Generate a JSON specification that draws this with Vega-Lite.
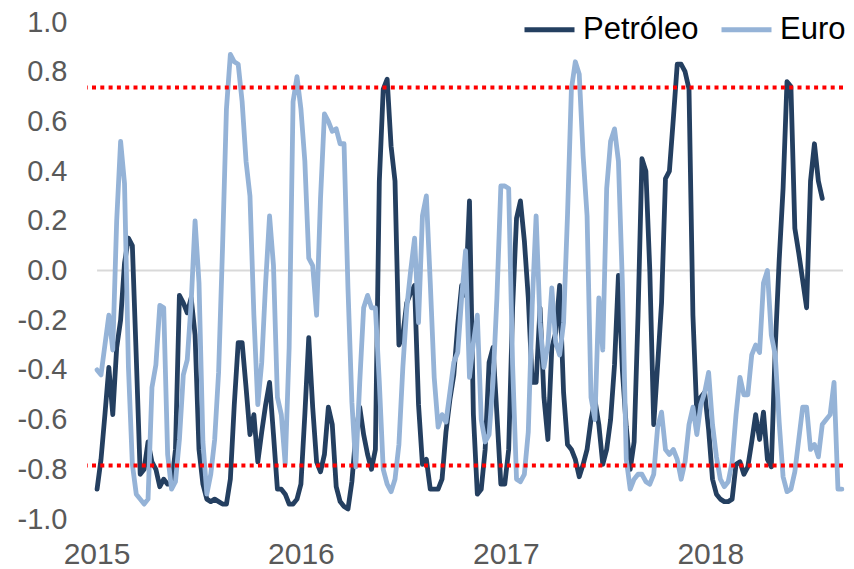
{
  "$schema": "https://vega.github.io/schema/vega-lite/v6.json",
  "width": 756,
  "height": 497,
  "padding": {"left": 87, "top": 22, "right": 11, "bottom": 50},
  "autosize": {"type": "none"},
  "background": "white",
  "config": {"view": {"stroke": null}, "font": "Liberation Sans"},
  "datasets": {
    "s": [
      {"d":"2015-01-02","oil":-0.88,"eur":-0.40},
      {"d":"2015-01-09","oil":-0.76,"eur":-0.42},
      {"d":"2015-01-16","oil":-0.58,"eur":-0.30},
      {"d":"2015-01-23","oil":-0.39,"eur":-0.18},
      {"d":"2015-01-30","oil":-0.58,"eur":-0.32},
      {"d":"2015-02-06","oil":-0.31,"eur":0.20},
      {"d":"2015-02-13","oil":-0.20,"eur":0.52},
      {"d":"2015-02-20","oil":0.03,"eur":0.35},
      {"d":"2015-02-27","oil":0.13,"eur":-0.39},
      {"d":"2015-03-06","oil":0.10,"eur":-0.78},
      {"d":"2015-03-13","oil":-0.35,"eur":-0.90},
      {"d":"2015-03-20","oil":-0.82,"eur":-0.92},
      {"d":"2015-03-27","oil":-0.80,"eur":-0.94},
      {"d":"2015-04-03","oil":-0.69,"eur":-0.92},
      {"d":"2015-04-10","oil":-0.77,"eur":-0.47},
      {"d":"2015-04-17","oil":-0.80,"eur":-0.38},
      {"d":"2015-04-24","oil":-0.87,"eur":-0.14},
      {"d":"2015-05-01","oil":-0.84,"eur":-0.15},
      {"d":"2015-05-08","oil":-0.86,"eur":-0.74},
      {"d":"2015-05-15","oil":-0.86,"eur":-0.88},
      {"d":"2015-05-22","oil":-0.72,"eur":-0.85},
      {"d":"2015-05-29","oil":-0.10,"eur":-0.68},
      {"d":"2015-06-05","oil":-0.13,"eur":-0.42},
      {"d":"2015-06-12","oil":-0.17,"eur":-0.36},
      {"d":"2015-06-19","oil":-0.11,"eur":-0.13},
      {"d":"2015-06-26","oil":-0.26,"eur":0.20},
      {"d":"2015-07-03","oil":-0.72,"eur":-0.05},
      {"d":"2015-07-10","oil":-0.86,"eur":-0.69},
      {"d":"2015-07-17","oil":-0.92,"eur":-0.90},
      {"d":"2015-07-24","oil":-0.93,"eur":-0.82},
      {"d":"2015-07-31","oil":-0.92,"eur":-0.68},
      {"d":"2015-08-07","oil":-0.93,"eur":-0.41},
      {"d":"2015-08-14","oil":-0.94,"eur":0.09},
      {"d":"2015-08-21","oil":-0.94,"eur":0.65},
      {"d":"2015-08-28","oil":-0.84,"eur":0.87},
      {"d":"2015-09-04","oil":-0.54,"eur":0.84},
      {"d":"2015-09-11","oil":-0.29,"eur":0.83},
      {"d":"2015-09-18","oil":-0.29,"eur":0.68},
      {"d":"2015-09-25","oil":-0.47,"eur":0.44},
      {"d":"2015-10-02","oil":-0.66,"eur":0.30},
      {"d":"2015-10-09","oil":-0.58,"eur":-0.18},
      {"d":"2015-10-16","oil":-0.77,"eur":-0.54},
      {"d":"2015-10-23","oil":-0.65,"eur":-0.37},
      {"d":"2015-10-30","oil":-0.54,"eur":-0.05},
      {"d":"2015-11-06","oil":-0.45,"eur":0.22},
      {"d":"2015-11-13","oil":-0.66,"eur":0.02},
      {"d":"2015-11-20","oil":-0.88,"eur":-0.51},
      {"d":"2015-11-27","oil":-0.88,"eur":-0.58},
      {"d":"2015-12-04","oil":-0.90,"eur":-0.78},
      {"d":"2015-12-11","oil":-0.94,"eur":-0.31},
      {"d":"2015-12-18","oil":-0.94,"eur":0.68},
      {"d":"2015-12-25","oil":-0.92,"eur":0.78},
      {"d":"2016-01-01","oil":-0.86,"eur":0.65},
      {"d":"2016-01-08","oil":-0.58,"eur":0.44},
      {"d":"2016-01-15","oil":-0.27,"eur":0.05},
      {"d":"2016-01-22","oil":-0.55,"eur":0.02},
      {"d":"2016-01-29","oil":-0.77,"eur":-0.18},
      {"d":"2016-02-05","oil":-0.81,"eur":0.29},
      {"d":"2016-02-12","oil":-0.74,"eur":0.63},
      {"d":"2016-02-19","oil":-0.55,"eur":0.60},
      {"d":"2016-02-26","oil":-0.62,"eur":0.56},
      {"d":"2016-03-04","oil":-0.87,"eur":0.57},
      {"d":"2016-03-11","oil":-0.93,"eur":0.51},
      {"d":"2016-03-18","oil":-0.95,"eur":0.51},
      {"d":"2016-03-25","oil":-0.96,"eur":-0.07},
      {"d":"2016-04-01","oil":-0.85,"eur":-0.53},
      {"d":"2016-04-08","oil":-0.66,"eur":-0.79},
      {"d":"2016-04-15","oil":-0.55,"eur":-0.45},
      {"d":"2016-04-22","oil":-0.66,"eur":-0.15},
      {"d":"2016-04-29","oil":-0.74,"eur":-0.10},
      {"d":"2016-05-06","oil":-0.80,"eur":-0.15},
      {"d":"2016-05-13","oil":-0.72,"eur":-0.15},
      {"d":"2016-05-20","oil":0.36,"eur":-0.45},
      {"d":"2016-05-27","oil":0.73,"eur":-0.80},
      {"d":"2016-06-03","oil":0.77,"eur":-0.86},
      {"d":"2016-06-10","oil":0.50,"eur":-0.89},
      {"d":"2016-06-17","oil":0.36,"eur":-0.84},
      {"d":"2016-06-24","oil":-0.30,"eur":-0.70},
      {"d":"2016-07-01","oil":-0.26,"eur":-0.39},
      {"d":"2016-07-08","oil":-0.13,"eur":-0.15},
      {"d":"2016-07-15","oil":-0.09,"eur":0.00},
      {"d":"2016-07-22","oil":-0.06,"eur":0.13},
      {"d":"2016-07-29","oil":-0.54,"eur":-0.21},
      {"d":"2016-08-05","oil":-0.78,"eur":0.22},
      {"d":"2016-08-12","oil":-0.76,"eur":0.30},
      {"d":"2016-08-19","oil":-0.88,"eur":-0.05},
      {"d":"2016-08-26","oil":-0.88,"eur":-0.43},
      {"d":"2016-09-02","oil":-0.88,"eur":-0.63},
      {"d":"2016-09-09","oil":-0.84,"eur":-0.58},
      {"d":"2016-09-16","oil":-0.65,"eur":-0.61},
      {"d":"2016-09-23","oil":-0.52,"eur":-0.49},
      {"d":"2016-09-30","oil":-0.42,"eur":-0.37},
      {"d":"2016-10-07","oil":-0.22,"eur":-0.33},
      {"d":"2016-10-14","oil":-0.06,"eur":-0.11},
      {"d":"2016-10-21","oil":-0.10,"eur":0.08},
      {"d":"2016-10-28","oil":0.28,"eur":-0.43},
      {"d":"2016-11-04","oil":-0.58,"eur":-0.29},
      {"d":"2016-11-11","oil":-0.90,"eur":-0.18},
      {"d":"2016-11-18","oil":-0.88,"eur":-0.60},
      {"d":"2016-11-25","oil":-0.72,"eur":-0.69},
      {"d":"2016-12-02","oil":-0.37,"eur":-0.66},
      {"d":"2016-12-09","oil":-0.31,"eur":-0.45},
      {"d":"2016-12-16","oil":-0.58,"eur":-0.11},
      {"d":"2016-12-23","oil":-0.86,"eur":0.34},
      {"d":"2016-12-30","oil":-0.86,"eur":0.34},
      {"d":"2017-01-06","oil":-0.72,"eur":0.33},
      {"d":"2017-01-13","oil":-0.15,"eur":-0.38},
      {"d":"2017-01-20","oil":0.21,"eur":-0.84},
      {"d":"2017-01-27","oil":0.28,"eur":-0.85},
      {"d":"2017-02-03","oil":0.12,"eur":-0.82},
      {"d":"2017-02-10","oil":-0.11,"eur":-0.65},
      {"d":"2017-02-17","oil":-0.45,"eur":-0.14},
      {"d":"2017-02-24","oil":-0.45,"eur":0.22},
      {"d":"2017-03-03","oil":-0.15,"eur":-0.21},
      {"d":"2017-03-10","oil":-0.51,"eur":-0.39},
      {"d":"2017-03-17","oil":-0.68,"eur":-0.30},
      {"d":"2017-03-24","oil":-0.31,"eur":-0.07},
      {"d":"2017-03-31","oil":-0.25,"eur":-0.29},
      {"d":"2017-04-07","oil":-0.06,"eur":-0.34},
      {"d":"2017-04-14","oil":-0.49,"eur":-0.21},
      {"d":"2017-04-21","oil":-0.70,"eur":0.22},
      {"d":"2017-04-28","oil":-0.72,"eur":0.73},
      {"d":"2017-05-05","oil":-0.76,"eur":0.84},
      {"d":"2017-05-12","oil":-0.83,"eur":0.79},
      {"d":"2017-05-19","oil":-0.78,"eur":0.46},
      {"d":"2017-05-26","oil":-0.72,"eur":0.22},
      {"d":"2017-06-02","oil":-0.60,"eur":-0.51},
      {"d":"2017-06-09","oil":-0.52,"eur":-0.60},
      {"d":"2017-06-16","oil":-0.62,"eur":-0.11},
      {"d":"2017-06-23","oil":-0.78,"eur":-0.32},
      {"d":"2017-06-30","oil":-0.72,"eur":0.33},
      {"d":"2017-07-07","oil":-0.60,"eur":0.52},
      {"d":"2017-07-14","oil":-0.38,"eur":0.57},
      {"d":"2017-07-21","oil":-0.02,"eur":0.44},
      {"d":"2017-07-28","oil":-0.40,"eur":-0.05},
      {"d":"2017-08-04","oil":-0.63,"eur":-0.76},
      {"d":"2017-08-11","oil":-0.80,"eur":-0.88},
      {"d":"2017-08-18","oil":-0.69,"eur":-0.84},
      {"d":"2017-08-25","oil":-0.18,"eur":-0.82},
      {"d":"2017-09-01","oil":0.45,"eur":-0.82},
      {"d":"2017-09-08","oil":0.40,"eur":-0.85},
      {"d":"2017-09-15","oil":0.00,"eur":-0.86},
      {"d":"2017-09-22","oil":-0.62,"eur":-0.82},
      {"d":"2017-09-29","oil":-0.38,"eur":-0.63},
      {"d":"2017-10-06","oil":-0.13,"eur":-0.57},
      {"d":"2017-10-13","oil":0.37,"eur":-0.72},
      {"d":"2017-10-20","oil":0.40,"eur":-0.74},
      {"d":"2017-10-27","oil":0.61,"eur":-0.72},
      {"d":"2017-11-03","oil":0.83,"eur":-0.76},
      {"d":"2017-11-10","oil":0.83,"eur":-0.84},
      {"d":"2017-11-17","oil":0.80,"eur":-0.77},
      {"d":"2017-11-24","oil":0.73,"eur":-0.62},
      {"d":"2017-12-01","oil":-0.18,"eur":-0.55},
      {"d":"2017-12-08","oil":-0.58,"eur":-0.66},
      {"d":"2017-12-15","oil":-0.51,"eur":-0.54},
      {"d":"2017-12-22","oil":-0.49,"eur":-0.49},
      {"d":"2017-12-29","oil":-0.64,"eur":-0.41},
      {"d":"2018-01-05","oil":-0.84,"eur":-0.62},
      {"d":"2018-01-12","oil":-0.90,"eur":-0.75},
      {"d":"2018-01-19","oil":-0.92,"eur":-0.84},
      {"d":"2018-01-26","oil":-0.93,"eur":-0.87},
      {"d":"2018-02-02","oil":-0.93,"eur":-0.85},
      {"d":"2018-02-09","oil":-0.92,"eur":-0.77},
      {"d":"2018-02-16","oil":-0.78,"eur":-0.58},
      {"d":"2018-02-23","oil":-0.77,"eur":-0.43},
      {"d":"2018-03-02","oil":-0.82,"eur":-0.50},
      {"d":"2018-03-09","oil":-0.79,"eur":-0.50},
      {"d":"2018-03-16","oil":-0.69,"eur":-0.34},
      {"d":"2018-03-23","oil":-0.58,"eur":-0.30},
      {"d":"2018-03-30","oil":-0.68,"eur":-0.33},
      {"d":"2018-04-06","oil":-0.57,"eur":-0.05},
      {"d":"2018-04-13","oil":-0.76,"eur":0.00},
      {"d":"2018-04-20","oil":-0.79,"eur":-0.26},
      {"d":"2018-04-27","oil":-0.31,"eur":-0.34},
      {"d":"2018-05-04","oil":0.04,"eur":-0.61},
      {"d":"2018-05-11","oil":0.33,"eur":-0.83},
      {"d":"2018-05-18","oil":0.76,"eur":-0.89},
      {"d":"2018-05-25","oil":0.74,"eur":-0.88},
      {"d":"2018-06-01","oil":0.17,"eur":-0.81},
      {"d":"2018-06-08","oil":0.07,"eur":-0.68},
      {"d":"2018-06-15","oil":-0.04,"eur":-0.55},
      {"d":"2018-06-22","oil":-0.15,"eur":-0.55},
      {"d":"2018-06-29","oil":0.36,"eur":-0.72},
      {"d":"2018-07-06","oil":0.51,"eur":-0.70},
      {"d":"2018-07-13","oil":0.36,"eur":-0.75},
      {"d":"2018-07-20","oil":0.29,"eur":-0.62},
      {"d":"2018-07-27","eur":-0.60},
      {"d":"2018-08-03","eur":-0.58},
      {"d":"2018-08-10","eur":-0.45},
      {"d":"2018-08-17","eur":-0.88},
      {"d":"2018-08-24","eur":-0.88}
    ]
  },
  "layer": [
    {
      "data": {"values": [{"a": "2015-01-02", "b": "2018-08-26", "v": 0}]},
      "mark": {"type": "rule", "color": "#d9d9d9", "strokeWidth": 2},
      "encoding": {
        "x": {"field": "a", "type": "temporal"},
        "x2": {"field": "b"},
        "y": {"field": "v", "type": "quantitative"}
      }
    },
    {
      "data": {"name": "s"},
      "mark": {"type": "line", "strokeWidth": 4.8, "strokeJoin": "round", "strokeCap": "round"},
      "encoding": {
        "x": {
          "field": "d", "type": "temporal",
          "scale": {"domain": [{"year": 2014, "month": 12, "date": 15}, {"year": 2018, "month": 8, "date": 26}]},
          "axis": {
            "values": [{"year": 2015, "month": 1, "date": 1}, {"year": 2016, "month": 1, "date": 1}, {"year": 2017, "month": 1, "date": 1}, {"year": 2018, "month": 1, "date": 1}],
            "format": "%Y", "title": null, "grid": false, "domain": false, "ticks": false,
            "labelFontSize": 30, "labelColor": "#595959", "labelPadding": 20, "labelFont": "Liberation Sans"
          }
        },
        "y": {
          "field": "oil", "type": "quantitative",
          "scale": {"domain": [-1, 1], "nice": false, "zero": false},
          "axis": {
            "values": [-1, -0.8, -0.6, -0.4, -0.2, 0, 0.2, 0.4, 0.6, 0.8, 1],
            "labelExpr": "replace(format(datum.value, '.1f'), '\u2212', '-')",
            "title": null, "grid": false, "domain": false, "ticks": false,
            "labelFontSize": 29, "labelColor": "#595959", "labelPadding": 20, "labelFont": "Liberation Sans"
          }
        },
        "color": {
          "datum": "Petróleo", "type": "nominal",
          "scale": {"domain": ["Petróleo", "Euro"], "range": ["#243F60", "#95B3D7"]},
          "legend": {
            "orient": "none", "legendX": 435, "legendY": -20, "direction": "horizontal",
            "title": null, "symbolType": "stroke", "symbolSize": 2500, "symbolStrokeWidth": 5,
            "labelFontSize": 31, "labelColor": "#000000", "labelFont": "Liberation Sans",
            "labelOffset": 6, "columnPadding": 12
          }
        }
      }
    },
    {
      "data": {"name": "s"},
      "mark": {"type": "line", "strokeWidth": 4.8, "strokeJoin": "round", "strokeCap": "round"},
      "encoding": {
        "x": {"field": "d", "type": "temporal"},
        "y": {"field": "eur", "type": "quantitative"},
        "color": {"datum": "Euro", "type": "nominal"}
      }
    },
    {
      "data": {"values": [{"v": 0.736}, {"v": -0.785}]},
      "mark": {"type": "rule", "color": "#ff0000", "strokeWidth": 4, "strokeDash": [4, 4.3]},
      "encoding": {"y": {"field": "v", "type": "quantitative"}}
    }
  ]
}
